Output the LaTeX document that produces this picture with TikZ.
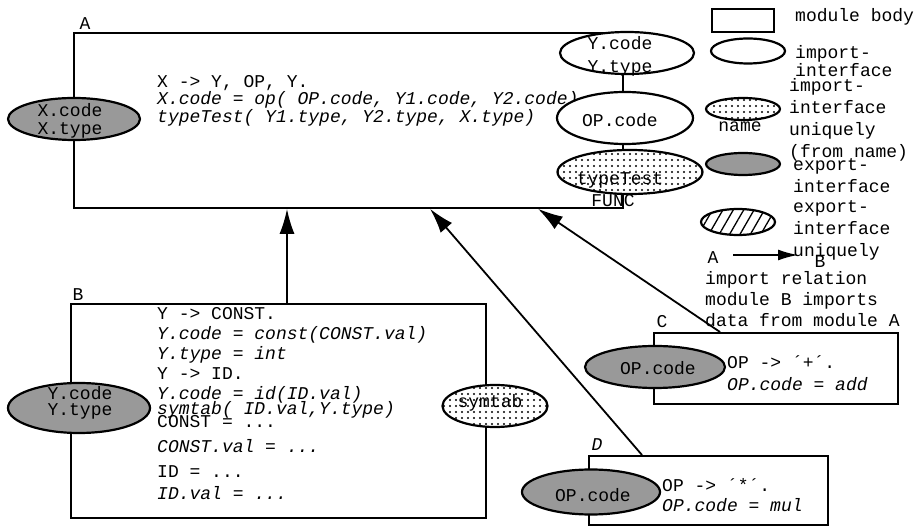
\documentclass[tikz,border=0pt]{standalone}
\usepackage{fontspec}
\setmonofont{Liberation Mono}
\usetikzlibrary{calc, shapes, arrows.meta, patterns.meta}
\tikzset{>=latex}
\tikzset{
  modbox/.style = {draw, line width = 1.8pt, rectangle, inner sep = 0pt, anchor = north west},
  ifc/.style = {draw, ellipse, line width = 2.2pt, inner sep = 0pt, fill = white},
  ifcuni/.style = {ifc, preaction = {fill = white}, pattern = {Dots[distance = 6pt, radius = 1.1pt]}},
  ifcexp/.style = {ifc, fill = black!40},
  ifcexpuni/.style = {ifc, preaction = {fill = white}, pattern = {Lines[angle = 60, distance = 9pt, line width = 1.3pt]}},
  code/.style = {font = \ttfamily\fontsize{18}{20}\selectfont, inner sep = 0pt, align = left, anchor = north west},
  legend/.style = {code, font = \ttfamily\fontsize{18}{22}\selectfont},
  lbl/.style = {font = \ttfamily\fontsize{18}{18}\selectfont, inner sep = 0pt, align = center},
  imp/.style = {line width = 1.8pt, -{Latex[length = 25pt, width = 15pt]}}
}
\begin{document}
\begin{tikzpicture}[x = 1pt, y = -1pt]
\useasboundingbox (0,0) rectangle (922,526);
\node[modbox, minimum width = 549pt, minimum height = 175pt] (boxA) at (73,32) {};
\node[lbl] (labA) at (85,24) {A};
\node[code, font = \ttfamily\fontsize{18}{15}\selectfont] (codeA) at (157,75) {X -> Y, OP, Y.\\ \textit{X.code = op( OP.code, Y1.code, Y2.code)}\\ \textit{typeTest( Y1.type, Y2.type, X.type)}};
\node[ifcexp, minimum width = 132pt, minimum height = 42pt] (xifc) at (74,119) {};
\node[lbl] (xifct) at (70,121) {X.code\\X.type};
\node[ifc, minimum width = 134pt, minimum height = 42pt] (yifc) at (627,53) {};
\node[lbl, font = \ttfamily\fontsize{18}{23}\selectfont] (yifct) at (620,56) {Y.code\\Y.type};
\node[ifc, minimum width = 136pt, minimum height = 52pt] (opifc) at (625,118) {};
\node[lbl] (opifct) at (620,120) {OP.code};
\node[ifcuni, minimum width = 145pt, minimum height = 44pt] (ttifc) at (630,172) {};
\node[lbl] (ttifct) at (620,180) {typeTest};
\node[lbl] (func) at (613,201) {FUNC};

\node[modbox, minimum width = 415pt, minimum height = 214pt] (boxB) at (70,303) {};
\node[lbl] (labB) at (78,295) {B};
\node[code] (codeB) at (157,307) {Y -> CONST.\\ \textit{Y.code = const(CONST.val)}\\ \textit{Y.type = int}\\ Y -> ID.\\ \textit{Y.code = id(ID.val)}\\[-5pt] \textit{symtab( ID.val,Y.type)}\\[-7pt] CONST = ...\\[5pt] \textit{CONST.val = ...}\\[5pt] ID = ...\\[2pt] \textit{ID.val = ...}};
\node[ifcexp, minimum width = 142pt, minimum height = 50pt] (yexp) at (79,408) {};
\node[lbl, font = \ttfamily\fontsize{18}{16}\selectfont] (yexpt) at (80,403) {Y.code\\Y.type};
\node[ifcuni, minimum width = 105pt, minimum height = 42pt] (symifc) at (495,406) {};
\node[lbl] (symifct) at (490,403) {symtab};

\node[modbox, minimum width = 244pt, minimum height = 71pt] (boxC) at (653,332) {};
\node[lbl] (labC) at (662,322) {C};
\node[code, font = \ttfamily\fontsize{18}{22}\selectfont] (codeC) at (727,355) {OP -> ´+´.\\ \textit{OP.code = add}};
\node[ifcexp, minimum width = 140pt, minimum height = 42pt] (opexpC) at (655,367) {};
\node[lbl] (opexpCt) at (658,368) {OP.code};

\node[modbox, minimum width = 239pt, minimum height = 69pt] (boxD) at (588,455) {};
\node[lbl] (labD) at (597,445) {\textit{D}};
\node[code] (codeD) at (662,478) {OP -> ´*´.\\ \textit{OP.code = mul}};
\node[ifcexp, minimum width = 138pt, minimum height = 45pt] (opexpD) at (591,492) {};
\node[lbl] (opexpDt) at (593,495) {OP.code};

\draw[imp] ($(boxB.north west)+(217,0)$) coordinate (bA) -- (bA |- boxA.south);
\draw[imp] ($(boxD.north west)+(54,0)$) -- ($(boxA.south west)+(357,0)$);
\draw[imp] ($(boxC.north west)+(67,0)$) -- ($(boxA.south west)+(465,0)$);

\node[modbox, minimum width = 62pt, minimum height = 23pt] (lgbody) at (711,8) {};
\node[lbl, anchor = west] (lgbodyt) at (795,17) {module body};
\node[ifc, minimum width = 74pt, minimum height = 25pt] (lgimp) at (748,51) {};
\node[legend] (lgimpt) at (795,45) {import-\\[-4pt]interface};
\node[ifcuni, minimum width = 74pt, minimum height = 22pt] (lguni) at (743,109) {};
\node[lbl] (lgname) at (740,127) {name};
\node[legend] (lgunit) at (789,78) {import-\\interface\\uniquely\\(from name)};
\node[ifcexp, minimum width = 74pt, minimum height = 22pt] (lgexp) at (743,164) {};
\node[legend] (lgexpt) at (793,158) {export-\\interface};
\node[ifcexpuni, minimum width = 74pt, minimum height = 26pt] (lgexpu) at (738,222) {};
\node[legend] (lgexput) at (793,200) {export-\\interface\\uniquely};
\node[lbl] (lgA) at (713,258) {A};
\node[lbl] (lgB) at (820,262) {B};
\coordinate (lgfrom) at (733,255);
\coordinate (lgto) at (798,255);
\draw[line width = 1.8pt, -{Latex[length = 20pt, width = 11pt]}] (lgfrom) -- (lgto);
\node[legend, font = \ttfamily\fontsize{18}{21}\selectfont] (lgrel) at (705,271) {import relation\\module B imports\\data from module A};
\end{tikzpicture}
\end{document}
